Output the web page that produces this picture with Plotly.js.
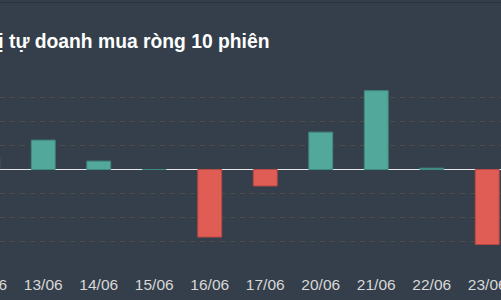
<!DOCTYPE html>
<html>
<head>
<meta charset="utf-8">
<script src="https://cdn.plot.ly/plotly-3.0.1.min.js"></script>
<style>
html,body{margin:0;padding:0;width:501px;height:300px;overflow:hidden;background:#343f4b;}
#wrap{position:absolute;left:0;top:0;width:501px;height:300px;overflow:hidden;}
#chart{position:absolute;left:-40px;top:0;width:555px;height:300px;}
#topline{position:absolute;left:0;top:2px;width:501px;height:1px;background:#2a323b;}
</style>
</head>
<body>
<div id="wrap"><div id="chart"></div><div id="topline"></div></div>
<script>
const titleText = "Giá trị tự doanh mua ròng 10 phiên";
const sessions = ["12/06","13/06","14/06","15/06","16/06","17/06","20/06","21/06","22/06","23/06"];
const netBuy = [10, 24.6, 7, 0, -56.6, -13.8, 31.3, 66, 1.1, -62.8];

const fillColors = netBuy.map(v => v >= 0 ? "#52a89b" : "#e05d56");
const lineColors = netBuy.map(v => v >= 0 ? "#3f8a7f" : "#b94943");

Plotly.newPlot("chart", [{
  type: "bar",
  x: sessions,
  y: netBuy,
  width: 0.43,
  marker: {color: fillColors, line: {color: lineColors, width: 1}},
  hoverinfo: "none"
}], {
  width: 555, height: 300,
  paper_bgcolor: "#343f4b",
  plot_bgcolor: "#343f4b",
  margin: {l: 0, r: 0, t: 74.3, b: 35, pad: 0},
  showlegend: false,
  annotations: [{
    text: "<b>" + titleText + "</b>",
    xref: "paper", yref: "paper",
    x: -0.0245, xanchor: "left",
    y: 1.17, yanchor: "middle",
    showarrow: false,
    font: {family: "Liberation Sans, Arial, sans-serif", size: 19.3, color: "#ffffff"}
  }],
  xaxis: {
    type: "category",
    range: [-0.5, 9.5],
    showgrid: false, zeroline: false, showline: false,
    ticks: "",
    ticklabelstandoff: 8,
    tickfont: {family: "Liberation Sans, Arial, sans-serif", size: 15.5, color: "#d8d8d8"},
    fixedrange: true
  },
  yaxis: {
    range: [-80, 80],
    dtick: 20,
    showticklabels: false,
    gridcolor: "#524c46",
    griddash: "5px,5px",
    gridwidth: 1,
    zeroline: true,
    zerolinecolor: "#e6e6e6",
    zerolinewidth: 1.2,
    showline: false,
    fixedrange: true
  }
}, {displayModeBar: false, staticPlot: true});
</script>
</body>
</html>
